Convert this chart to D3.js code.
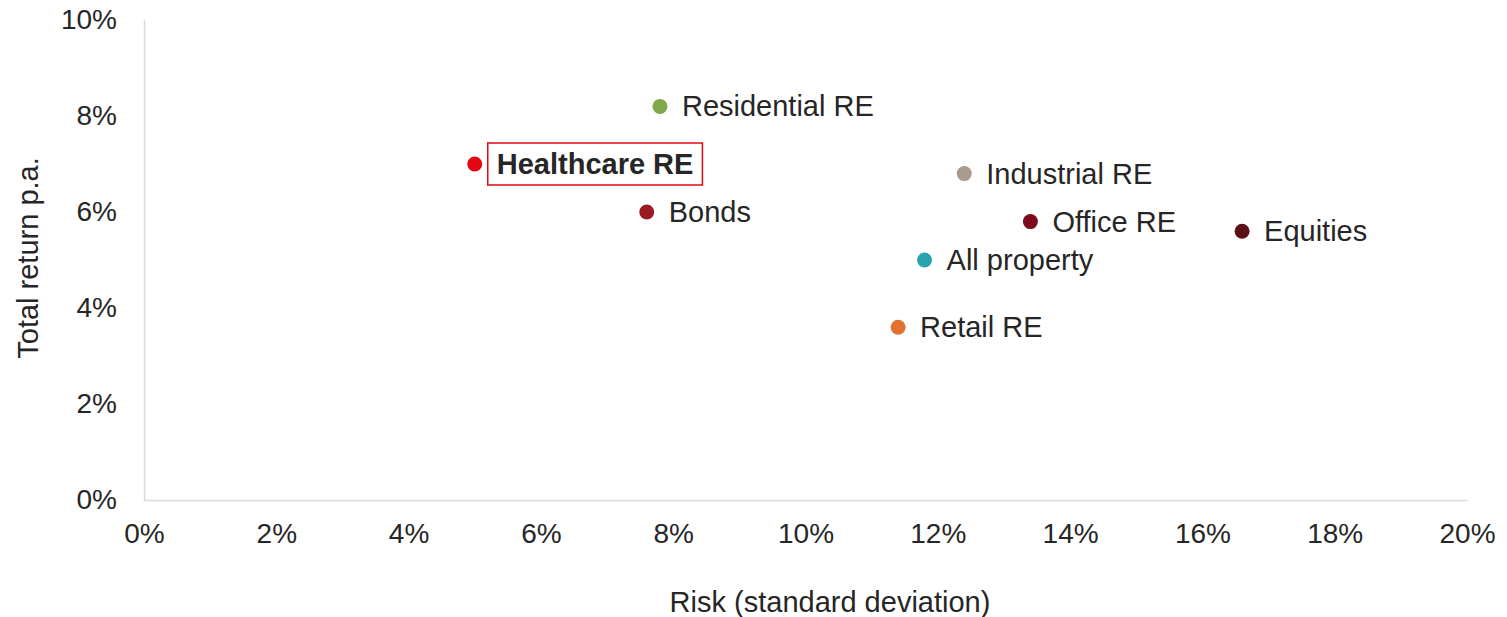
<!DOCTYPE html>
<html>
<head>
<meta charset="utf-8">
<script src="https://cdn.jsdelivr.net/npm/d3@7"></script>
<style>
  html, body { margin: 0; padding: 0; background: #fff; }
  svg { display: block; font-family: "Liberation Sans", Arial, sans-serif; }
</style>
</head>
<body>
<svg id="chart" width="1507" height="617"></svg>
<script>
const names = ["Residential RE", "Healthcare RE", "Bonds", "Industrial RE", "Office RE", "Equities", "All property", "Retail RE"];
const risk = [7.8, 5.0, 7.6, 12.4, 13.4, 16.6, 11.8, 11.4];
const ret = [8.2, 7.0, 6.0, 6.8, 5.8, 5.6, 5.0, 3.6];
const colors = ["#7ea84a", "#e30613", "#9b1b22", "#a89a8c", "#7d0a1f", "#5c1014", "#2aa3b0", "#e2702f"];
const highlight = ["Healthcare RE"];
const xTicks = [0, 2, 4, 6, 8, 10, 12, 14, 16, 18, 20];
const yTicks = [0, 2, 4, 6, 8, 10];
const xTitle = "Risk (standard deviation)";
const yTitle = "Total return p.a.";

const svg = d3.select("#chart");
const m = { left: 144, right: 1467, top: 20, bottom: 500 };
const x = d3.scaleLinear().domain([0, 20]).range([m.left, m.right]);
const y = d3.scaleLinear().domain([0, 10]).range([m.bottom, m.top]);
const textColor = "#262626";
const fsTick = 28;
const fs = 29;

// axes
const xAxis = svg.append("g").attr("transform", `translate(0,${m.bottom})`)
  .call(d3.axisBottom(x).tickValues(xTicks).tickSize(0).tickPadding(23).tickFormat(d => d + "%"));
xAxis.select(".domain").attr("stroke", "#d9d9d9").attr("stroke-width", 1.5);
xAxis.selectAll("text").attr("font-size", fsTick).attr("fill", textColor).attr("dy", "0.71em");

const yAxis = svg.append("g").attr("transform", `translate(${m.left},0)`)
  .call(d3.axisLeft(y).tickValues(yTicks).tickSize(0).tickPadding(27).tickFormat(d => d + "%"));
yAxis.select(".domain").attr("stroke", "#d9d9d9").attr("stroke-width", 1.5);
yAxis.selectAll("text").attr("font-size", fsTick).attr("fill", textColor);
xAxis.raise();

// titles
svg.append("text").attr("x", 830).attr("y", 602)
  .attr("text-anchor", "middle").attr("dominant-baseline", "central")
  .attr("font-size", fs).attr("fill", textColor).text(xTitle);
svg.append("text").attr("transform", `translate(28,258) rotate(-90)`)
  .attr("text-anchor", "middle").attr("dominant-baseline", "central")
  .attr("font-size", fs).attr("fill", textColor).text(yTitle);

// points
const data = names.map((n, i) => ({ name: n, x: risk[i], y: ret[i], color: colors[i] }));
const g = svg.append("g");
g.selectAll("circle").data(data).join("circle")
  .attr("cx", d => x(d.x)).attr("cy", d => y(d.y)).attr("r", 7.5)
  .attr("fill", d => d.color);

const labels = g.selectAll("text.lbl").data(data).join("text").attr("class", "lbl")
  .attr("x", d => x(d.x) + 22).attr("y", d => y(d.y))
  .attr("dominant-baseline", "central")
  .attr("font-size", fs).attr("fill", textColor)
  .attr("font-weight", d => highlight.includes(d.name) ? "bold" : "normal")
  .text(d => d.name);

labels.filter(d => highlight.includes(d.name)).each(function(d) {
  const b = this.getBBox();
  g.insert("rect", "text")
    .attr("x", b.x - 9).attr("y", y(d.y) - 21)
    .attr("width", b.width + 18).attr("height", 42)
    .attr("fill", "none").attr("stroke", "#e30613").attr("stroke-width", 1.5);
});
</script>
</body>
</html>
